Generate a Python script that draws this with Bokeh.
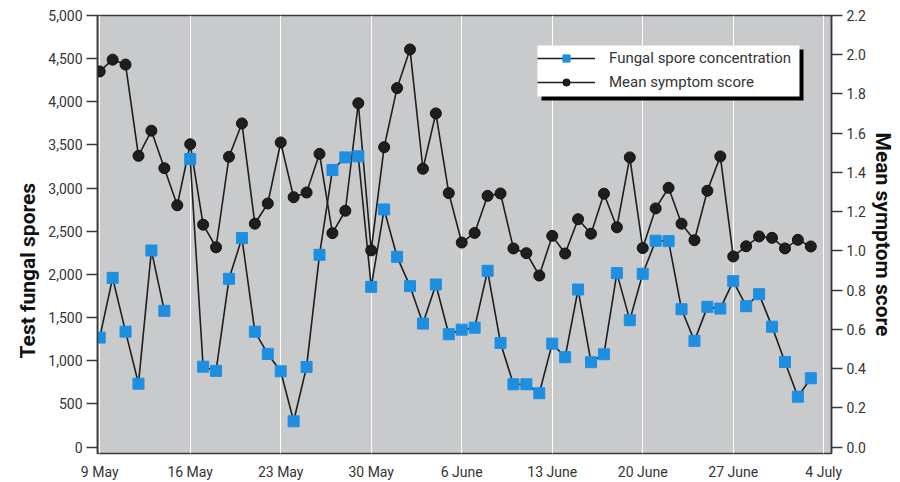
import numpy as np
import pandas as pd
from bokeh.plotting import figure
from bokeh.models import (Range1d, LinearAxis, FixedTicker, NumeralTickFormatter,
                          Legend, LegendItem, BoxAnnotation, ColumnDataSource, Title)
from bokeh.embed import file_html
from bokeh.resources import INLINE

# ---------------- data ----------------
dates = pd.date_range("2000-05-09", periods=56, freq="D")
spores = [1268, 1960, 1337, 734, 2277, 1578, np.nan, 3337, 931, 882,
          1949, 2421, 1337, 1079, 878, 298, 928, 2227, 3210, 3356,
          3368, 1856, 2753, 2204, 1864, 1430, 1883, 1307, 1360, 1383,
          2042, 1206, 727, 727, 623, 1198, 1041, 1825, 983, 1075,
          2015, 1470, 2007, 2390, 2386, 1597, 1230, 1624, 1604, 1922,
          1632, 1771, 1395, 986, 583, 797]
symptom = [1.915, 1.975, 1.950, 1.485, 1.613, 1.422, 1.233, 1.544, 1.134, 1.019,
           1.480, 1.650, 1.139, 1.242, 1.553, 1.274, 1.298, 1.495, 1.091, 1.205,
           1.753, 1.003, 1.529, 1.830, 2.027, 1.419, 1.701, 1.295, 1.043, 1.092,
           1.281, 1.293, 1.013, 0.989, 0.875, 1.077, 0.987, 1.162, 1.088, 1.292,
           1.121, 1.477, 1.015, 1.217, 1.322, 1.139, 1.055, 1.307, 1.482, 0.972,
           1.024, 1.074, 1.067, 1.013, 1.057, 1.023]
tick_dates = ["2000-05-09", "2000-05-16", "2000-05-23", "2000-05-30", "2000-06-06",
              "2000-06-13", "2000-06-20", "2000-06-27", "2000-07-04"]
tick_labels = ["9 May", "16 May", "23 May", "30 May", "6 June",
               "13 June", "20 June", "27 June", "4 July"]

day = [int((d - dates[0]).days) for d in dates]
tick_pos = [int((pd.Timestamp(t) - dates[0]).days) for t in tick_dates]

FONT = "Roboto"
TXT = "#333333"
BLUE = "#1e8fe0"
DARK = "#1e1e1e"

W, H = 900, 482
ML, MR, MT, MB = 97, 69, 15, 29
X0, X1 = -0.17, 56.6
Y0, Y1 = -75, 5000

p = figure(width=W, height=H, output_backend="svg", toolbar_location=None,
           x_range=Range1d(X0, X1), y_range=Range1d(Y0, Y1),
           min_border_left=ML, min_border_right=MR, min_border_top=MT,
           min_border_bottom=MB, background_fill_color="#c9cacc",
           border_fill_color="white")
p.extra_y_ranges = {"score": Range1d(-0.032, 2.2)}

src = ColumnDataSource(dict(day=day, spores=spores, symptom=symptom))

l1 = p.line("day", "spores", source=src, line_color=DARK, line_width=1.6)
l2 = p.line("day", "symptom", source=src, line_color=DARK, line_width=1.6,
            y_range_name="score")
s1 = p.scatter("day", "spores", source=src, marker="square", size=11,
               fill_color=BLUE, line_color=BLUE)
s2 = p.scatter("day", "symptom", source=src, marker="circle", size=11,
               fill_color=DARK, line_color="#111111", y_range_name="score")

# grids
p.xgrid.ticker = FixedTicker(ticks=tick_pos)
p.xgrid.grid_line_color = "white"
p.xgrid.grid_line_width = 1
p.ygrid.grid_line_color = None
p.outline_line_color = "#3a3a3a"
p.outline_line_width = 1.5

# x axis
xa = p.xaxis[0]
xa.ticker = FixedTicker(ticks=tick_pos)
xa.major_label_overrides = {t: l for t, l in zip(tick_pos, tick_labels)}
xa.axis_line_color = None
xa.major_tick_line_color = None
xa.minor_tick_line_color = None
xa.major_label_standoff = 4
xa.major_label_text_font = FONT
xa.major_label_text_font_size = "14px"
xa.major_label_text_color = TXT

# left axis
ya = p.yaxis[0]
ya.ticker = FixedTicker(ticks=list(range(0, 5001, 500)))
ya.formatter = NumeralTickFormatter(format="0,0")

ra = LinearAxis(y_range_name="score", axis_label="Mean symptom score",
                ticker=FixedTicker(ticks=[i / 10 for i in range(0, 23, 2)]),
                formatter=NumeralTickFormatter(format="0.0"))
p.add_layout(ra, "right")

for ax in (ya, ra):
    ax.axis_line_color = "#3a3a3a"
    ax.axis_line_width = 1.5
    ax.major_tick_out = 11
    ax.major_tick_in = 0
    ax.major_tick_line_color = "#3a3a3a"
    ax.major_tick_line_width = 1.3
    ax.minor_tick_line_color = None
    ax.major_label_standoff = 4
    ax.major_label_text_font = FONT
    ax.major_label_text_font_size = "14px"
    ax.major_label_text_color = TXT
    ax.axis_label_text_font = FONT
    ax.axis_label_text_font_size = "21px"
    ax.axis_label_text_font_style = "bold"
    ax.axis_label_text_color = "#111111"
ra.axis_label_standoff = 2

left_title = Title(text="Test fungal spores", align="left", offset=95,
                   text_font=FONT, text_font_size="21px", text_font_style="bold",
                   text_color="#111111", standoff=11)
p.add_layout(left_title, "left")

# legend box (white panel with black drop shadow), positioned in pixels of the frame
fw = W - ML - MR
fh = H - MT - MB
def dx(px):        # px measured from frame left
    return X0 + px * (X1 - X0) / fw
def dy(px):        # px measured from frame bottom
    return Y0 + px * (Y1 - Y0) / fh

BOX_L, BOX_R, BOX_B, BOX_T = 440, 702, 357, 408
SH = 4
shadow = BoxAnnotation(left=dx(BOX_L + SH), right=dx(BOX_R + SH),
                       bottom=dy(BOX_B - SH), top=dy(BOX_T - SH),
                       fill_color="black", fill_alpha=1, line_color=None)
panel = BoxAnnotation(left=dx(BOX_L), right=dx(BOX_R),
                      bottom=dy(BOX_B), top=dy(BOX_T),
                      fill_color="white", fill_alpha=1, line_color=None)
p.add_layout(shadow)
p.add_layout(panel)

legend = Legend(items=[LegendItem(label="Fungal spore concentration", renderers=[l1, s1]),
                       LegendItem(label="Mean symptom score", renderers=[l2, s2])],
                location=(440, 362))
legend.background_fill_alpha = 0
legend.border_line_color = None
legend.label_text_font = FONT
legend.label_text_font_size = "15px"
legend.label_text_color = TXT
legend.glyph_width = 58
legend.glyph_height = 18
legend.label_height = 18
legend.label_standoff = 14
legend.padding = 6
legend.spacing = 6
legend.margin = 0
p.add_layout(legend, "center")

open("out.html", "w").write(file_html(p, INLINE))
